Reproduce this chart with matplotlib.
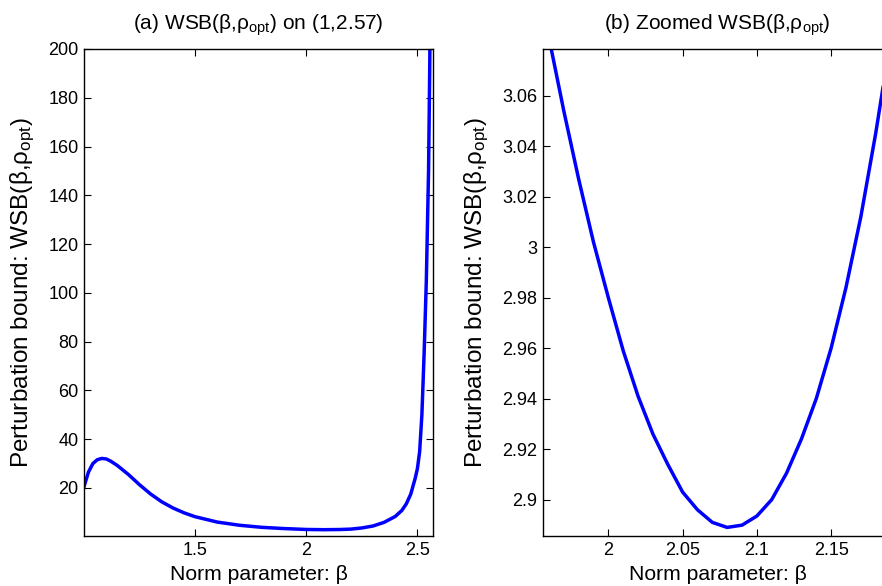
# WSB perturbation bound vs norm parameter beta, two panels
import matplotlib
matplotlib.use('Agg')
import matplotlib.pyplot as plt

plt.rcParams['font.family'] = ['Liberation Sans', 'DejaVu Sans']
plt.rcParams['mathtext.fontset'] = 'custom'
plt.rcParams['mathtext.rm'] = 'Liberation Sans'
plt.rcParams['mathtext.it'] = 'Liberation Sans:italic'

# panel (a): full range
beta_full = [1.00, 1.02, 1.04, 1.06, 1.08, 1.10, 1.12, 1.15, 1.20, 1.25,
             1.30, 1.35, 1.40, 1.45, 1.50, 1.60, 1.70, 1.80, 1.90, 2.00,
             2.08, 2.15, 2.20, 2.25, 2.30, 2.35, 2.40, 2.43, 2.45, 2.47,
             2.49, 2.50, 2.51, 2.52, 2.53, 2.54, 2.55, 2.555, 2.56]
wsb_full = [20.5, 26.5, 30.0, 31.6, 32.1, 31.9, 31.0, 29.2, 25.5, 21.3,
            17.5, 14.3, 11.8, 9.8, 8.2, 6.0, 4.7, 3.85, 3.35, 2.98,
            2.89, 2.96, 3.12, 3.6, 4.4, 5.9, 8.3, 10.8, 13.5, 17.5,
            24.0, 28.0, 35.0, 50.0, 75.0, 105.0, 150.0, 190.0, 240.0]

# panel (b): zoom around the minimum, sampled every 0.01
beta_zoom = [1.96, 1.97, 1.98, 1.99, 2.00, 2.01, 2.02, 2.03, 2.04, 2.05,
             2.06, 2.07, 2.08, 2.09, 2.10, 2.11, 2.12, 2.13, 2.14, 2.15,
             2.16, 2.17, 2.18, 2.19]
wsb_zoom = [3.083, 3.054, 3.027, 3.002, 2.980, 2.959, 2.941, 2.926, 2.914, 2.903,
            2.896, 2.891, 2.889, 2.8899, 2.8935, 2.900, 2.9105, 2.924, 2.940, 2.960,
            2.984, 3.012, 3.045, 3.082]

full_ticks_y = [20, 40, 60, 80, 100, 120, 140, 160, 180, 200]
full_ticks_x = [1.5, 2, 2.5]
zoom_ticks_y = [2.9, 2.92, 2.94, 2.96, 2.98, 3.0, 3.02, 3.04, 3.06]
zoom_ticks_x = [2, 2.05, 2.1, 2.15]

ylab = 'Perturbation bound: WSB(β,ρ$_{\\mathrm{opt}}$)'
xlab = 'Norm parameter: β'


def style_axis(ax):
    ax.tick_params(direction='in', length=5, width=0.8, top=True, right=True,
                   labelsize=13, colors='black', pad=4)
    for s in ax.spines.values():
        s.set_linewidth(1.0)
        s.set_color('black')


fig = plt.figure(figsize=(8.82, 5.86), dpi=100)
ax1 = fig.add_axes([84 / 882, 1 - 536 / 586, 349 / 882, 487 / 586])
ax2 = fig.add_axes([543 / 882, 1 - 536 / 586, 349 / 882, 487 / 586])

ax1.plot(beta_full, wsb_full, color=(0, 0, 1), lw=2.5)
ax1.set_xlim(1, 2.57)
ax1.set_ylim(0.3, 200)
ax1.set_xticks(full_ticks_x)
ax1.set_xticklabels(['1.5', '2', '2.5'])
ax1.set_yticks(full_ticks_y)
ax1.set_title('(a) WSB(β,ρ$_{\\mathrm{opt}}$) on (1,2.57)', fontsize=15, pad=14)
ax1.set_xlabel(xlab, fontsize=15.2, labelpad=5)
ax1.set_ylabel(ylab, fontsize=17.5, labelpad=8)
style_axis(ax1)

ax2.plot(beta_zoom, wsb_zoom, color=(0, 0, 1), lw=2.5)
ax2.set_xlim(1.956, 2.191)
ax2.set_ylim(2.8856, 3.0785)
ax2.set_xticks(zoom_ticks_x)
ax2.set_xticklabels(['2', '2.05', '2.1', '2.15'])
ax2.set_yticks(zoom_ticks_y)
ax2.set_yticklabels(['2.9', '2.92', '2.94', '2.96', '2.98', '3', '3.02', '3.04', '3.06'])
ax2.set_title('(b) Zoomed WSB(β,ρ$_{\\mathrm{opt}}$)', fontsize=15, pad=14)
ax2.set_xlabel(xlab, fontsize=15.2, labelpad=5)
ax2.set_ylabel(ylab, fontsize=17.5, labelpad=8)
style_axis(ax2)

fig.savefig('out.png', dpi=100)
